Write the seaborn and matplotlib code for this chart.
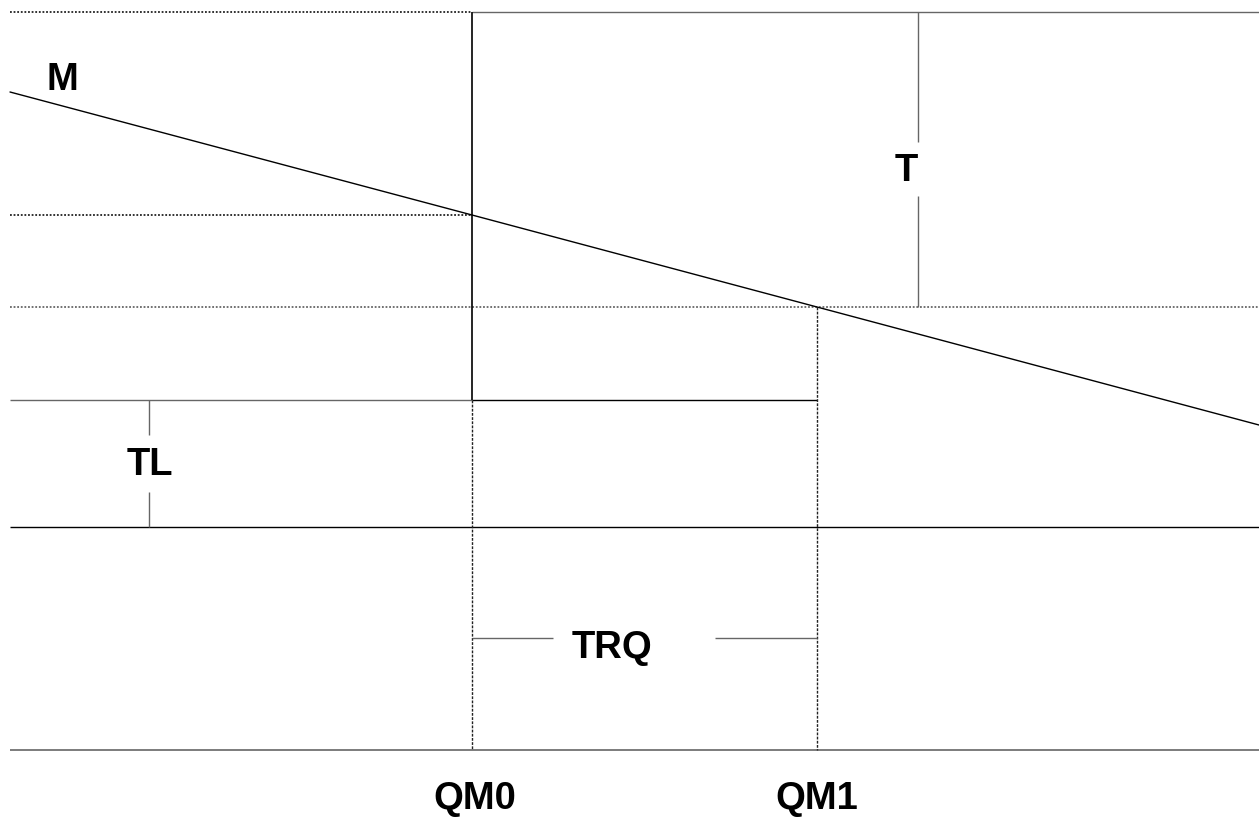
import matplotlib
matplotlib.use("Agg")
import matplotlib.pyplot as plt
import seaborn as sns
import pandas as pd

# Diagram levels (pixel-like units, y grows downward)
x_left, x_right = 10, 1259
qm0, qm1 = 472, 817
y_top, y_pm, y_pw, y_tl, y_low, y_base = 12, 215, 307, 400, 527, 750

# import demand line M
m_x = [10, 472, 817, 1259]
m_y = [92, 215, 307, 425]

labels = ["M", "T", "TL", "TRQ", "QM0", "QM1"]
label_x = [62, 906, 150, 612, 475, 817]
label_y = [80, 171, 465, 648, 799, 799]

sns.set_theme(style="white")
plt.rcParams['font.family'] = ['Liberation Sans', 'DejaVu Sans']

fig = plt.figure(figsize=(12.59, 8.17), dpi=100)
ax = fig.add_axes([0, 0, 1, 1])

dot = (0, (1, 1))
dk = '#222222'
gr = '#666666'

# horizontal lines
ax.hlines(y_top, x_left, qm0, color=dk, lw=1.3, linestyle=dot)
ax.hlines(y_top, qm0, x_right, color=gr, lw=1.0)
ax.hlines(y_pm, x_left, qm0, color=dk, lw=1.3, linestyle=dot)
ax.hlines(y_pw, x_left, x_right, color=gr, lw=1.3, linestyle=dot)
ax.hlines(y_tl, x_left, qm0, color=gr, lw=1.0)
ax.hlines(y_tl, qm0, qm1, color='black', lw=1.0)
ax.hlines(y_low, x_left, x_right, color='black', lw=1.0)
ax.hlines(y_base, x_left, x_right, color=gr, lw=1.2)

# vertical lines
ax.vlines(qm0, y_top, y_tl, color='black', lw=1.2)
ax.vlines(qm0, y_tl, y_base, color=dk, lw=1.0, linestyle=(0, (2, 1)))
ax.vlines(qm1, y_pw, y_base, color=dk, lw=1.0, linestyle=(0, (2, 1)))

# measurement brackets with gaps for labels
ax.vlines(918, y_top, 142, color=gr, lw=1.0)
ax.vlines(918, 196, y_pw, color=gr, lw=1.0)
ax.vlines(149, y_tl, 435, color=gr, lw=1.0)
ax.vlines(149, 492, y_low, color=gr, lw=1.0)
ax.hlines(638, qm0, 553, color=gr, lw=1.0)
ax.hlines(638, 715, qm1, color=gr, lw=1.0)

# demand curve
df = pd.DataFrame({'x': m_x, 'y': m_y})
sns.lineplot(data=df, x='x', y='y', ax=ax, color='black', lw=1.0, sort=False)
ax.set_xlim(0, 1259)
ax.set_ylim(817, 0)
ax.axis('off')

for t, lx, ly in zip(labels, label_x, label_y):
    ax.text(lx, ly, t, ha='center', va='center', fontsize=27.5,
            fontweight='bold', color='black')

fig.savefig('out.png', dpi=100, facecolor='white')
